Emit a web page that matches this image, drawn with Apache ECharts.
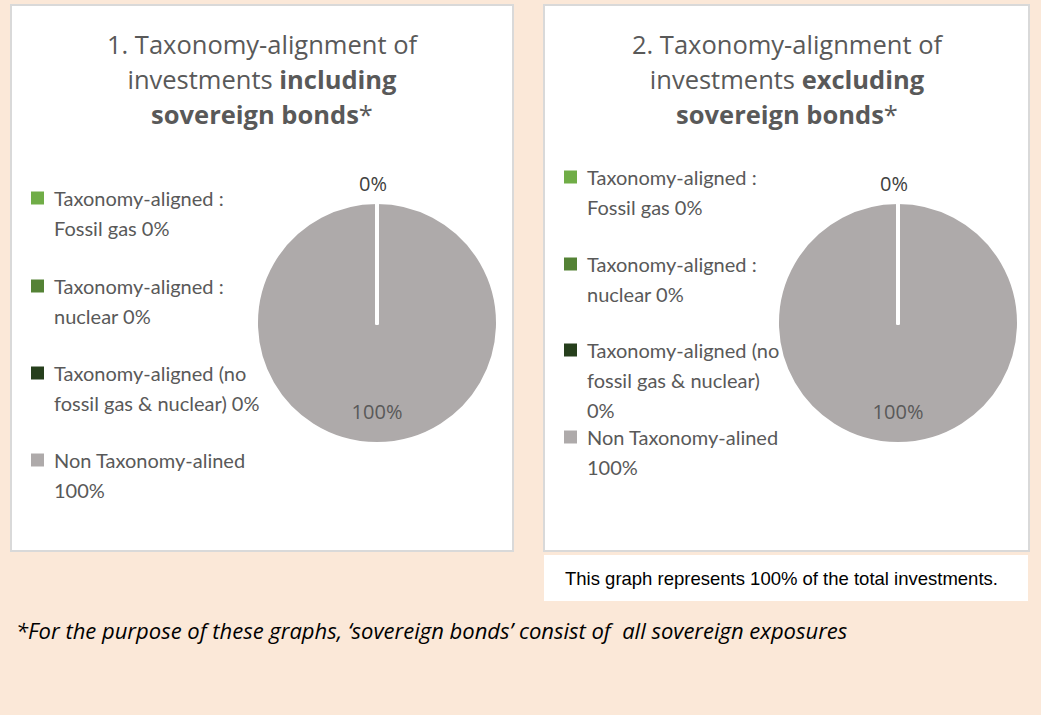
<!DOCTYPE html>
<html>
<head>
<meta charset="utf-8">
<title>Taxonomy-alignment of investments</title>
<script src="https://cdn.jsdelivr.net/npm/echarts@6/dist/echarts.min.js"></script>
<style>
  html, body { margin: 0; padding: 0; background: #FBE8D8; }
  #chart { width: 1041px; height: 715px; }
</style>
</head>
<body>
<div id="chart"></div>
<script>
// data
const categories = [
  'Taxonomy-aligned: Fossil gas',
  'Taxonomy-aligned: nuclear',
  'Taxonomy-aligned (no fossil gas & nuclear)',
  'Non Taxonomy-alined'
]
const includingValues = [0, 0, 0, 100]
const excludingValues = [0, 0, 0, 100]
const sliceColors = ['#70AD47', '#548235', '#263F1C', '#AEAAAA']

// legend texts as wrapped in each panel
const includingLegendText = [
  'Taxonomy-aligned :\nFossil gas 0%',
  'Taxonomy-aligned :\nnuclear 0%',
  'Taxonomy-aligned (no\nfossil gas & nuclear) 0%',
  'Non Taxonomy-alined\n100%'
]
const excludingLegendText = [
  'Taxonomy-aligned :\nFossil gas 0%',
  'Taxonomy-aligned :\nnuclear 0%',
  'Taxonomy-aligned (no\nfossil gas & nuclear)\n0%',
  'Non Taxonomy-alined\n100%'
]

const LINE_H = 30
const TXT = '#595959'

// legend text is centred on the marker, so blank lines on top push the
// first line of the label level with the marker
const makeLegends = (texts, left, firstLineY) => texts.map((text, i) => {
  const lines = text.split('\n').length
  return {
    left: left,
    top: firstLineY[i] - (lines - 0.5) * LINE_H,
    orient: 'vertical',
    padding: 0,
    selectedMode: false,
    itemWidth: 13,
    itemHeight: 13,
    itemStyle: { borderWidth: 0 },
    data: [{ name: categories[i], icon: 'rect' }],
    formatter: () => '\n'.repeat(lines - 1) + text,
    textStyle: {
      fontFamily: 'Lato',
      fontSize: 20,
      lineHeight: LINE_H,
      color: TXT,
      padding: [0, 0, 0, 5]
    }
  }
})

const makePie = (values, center) => {
  const data = values.map((v, i) => ({
    name: categories[i],
    value: v,
    itemStyle: { color: sliceColors[i] },
    label: i === 0
      ? { show: true, position: 'outside', color: '#404040' }
      : (i === 3 ? { show: true, position: 'inside', color: TXT } : { show: false })
  }))
  return {
    type: 'pie',
    center: center,
    radius: 121,
    startAngle: 90,
    clockwise: true,
    silent: true,
    avoidLabelOverlap: false,
    itemStyle: { borderColor: '#fff', borderWidth: 4 },
    label: {
      fontFamily: 'Open Sans',
      fontSize: 20,
      formatter: p => p.value + '%'
    },
    labelLine: { show: false, length: 19, length2: 0 },
    emphasis: { disabled: true },
    // big slice first so the white edges of the empty slices stay on top
    data: data.slice().reverse(),
    labelLayout: p => {
      if (p.text === '0%') return { x: p.rect.x + p.rect.width / 2 - 4, align: 'center' }
      return { dy: 25 }
    }
  }
}

const makeTitle = (text, x) => ({
  text: text,
  left: x,
  top: 26,
  padding: 0,
  textAlign: 'center',
  textStyle: {
    fontFamily: 'Open Sans',
    fontSize: 25.5,
    fontWeight: 'normal',
    lineHeight: 35,
    color: TXT,
    rich: {
      b: { fontFamily: 'Open Sans', fontSize: 25.5, fontWeight: 'bold', lineHeight: 35, color: TXT }
    }
  }
})

const chart = echarts.init(document.getElementById('chart'), null, { renderer: 'svg' })

chart.setOption({
  backgroundColor: '#FBE8D8',
  animation: false,
  title: [
    makeTitle('1. Taxonomy-alignment of\ninvestments {b|including}\n{b|sovereign bonds}*', 262),
    makeTitle('2. Taxonomy-alignment of\ninvestments {b|excluding}\n{b|sovereign bonds}*', 787)
  ],
  legend: [
    ...makeLegends(includingLegendText, 31, [198, 286, 373, 460]),
    ...makeLegends(excludingLegendText, 564, [177, 264, 350, 437])
  ],
  graphic: [
    { type: 'rect', z: -10, shape: { x: 11, y: 5, width: 502, height: 546 },
      style: { fill: '#fff', stroke: '#D9D9D9', lineWidth: 2 } },
    { type: 'rect', z: -10, shape: { x: 544, y: 5, width: 485, height: 546 },
      style: { fill: '#fff', stroke: '#D9D9D9', lineWidth: 2 } },
    { type: 'rect', z: -10, shape: { x: 544, y: 555, width: 484, height: 46 },
      style: { fill: '#fff' } },
    { type: 'text', x: 565, y: 578,
      style: { text: 'This graph represents 100% of the total investments.',
        font: '18.5px "Liberation Sans", Arial, sans-serif', fill: '#000', verticalAlign: 'middle' } },
    { type: 'text', x: 16, y: 630,
      style: { text: '*For the purpose of these graphs, \u2018sovereign bonds\u2019 consist of  all sovereign exposures',
        font: 'italic 22px "Open Sans", sans-serif', fill: '#000', verticalAlign: 'middle' } }
  ],
  series: [
    makePie(includingValues, [377, 323]),
    makePie(excludingValues, [898, 323])
  ]
})
</script>
</body>
</html>
